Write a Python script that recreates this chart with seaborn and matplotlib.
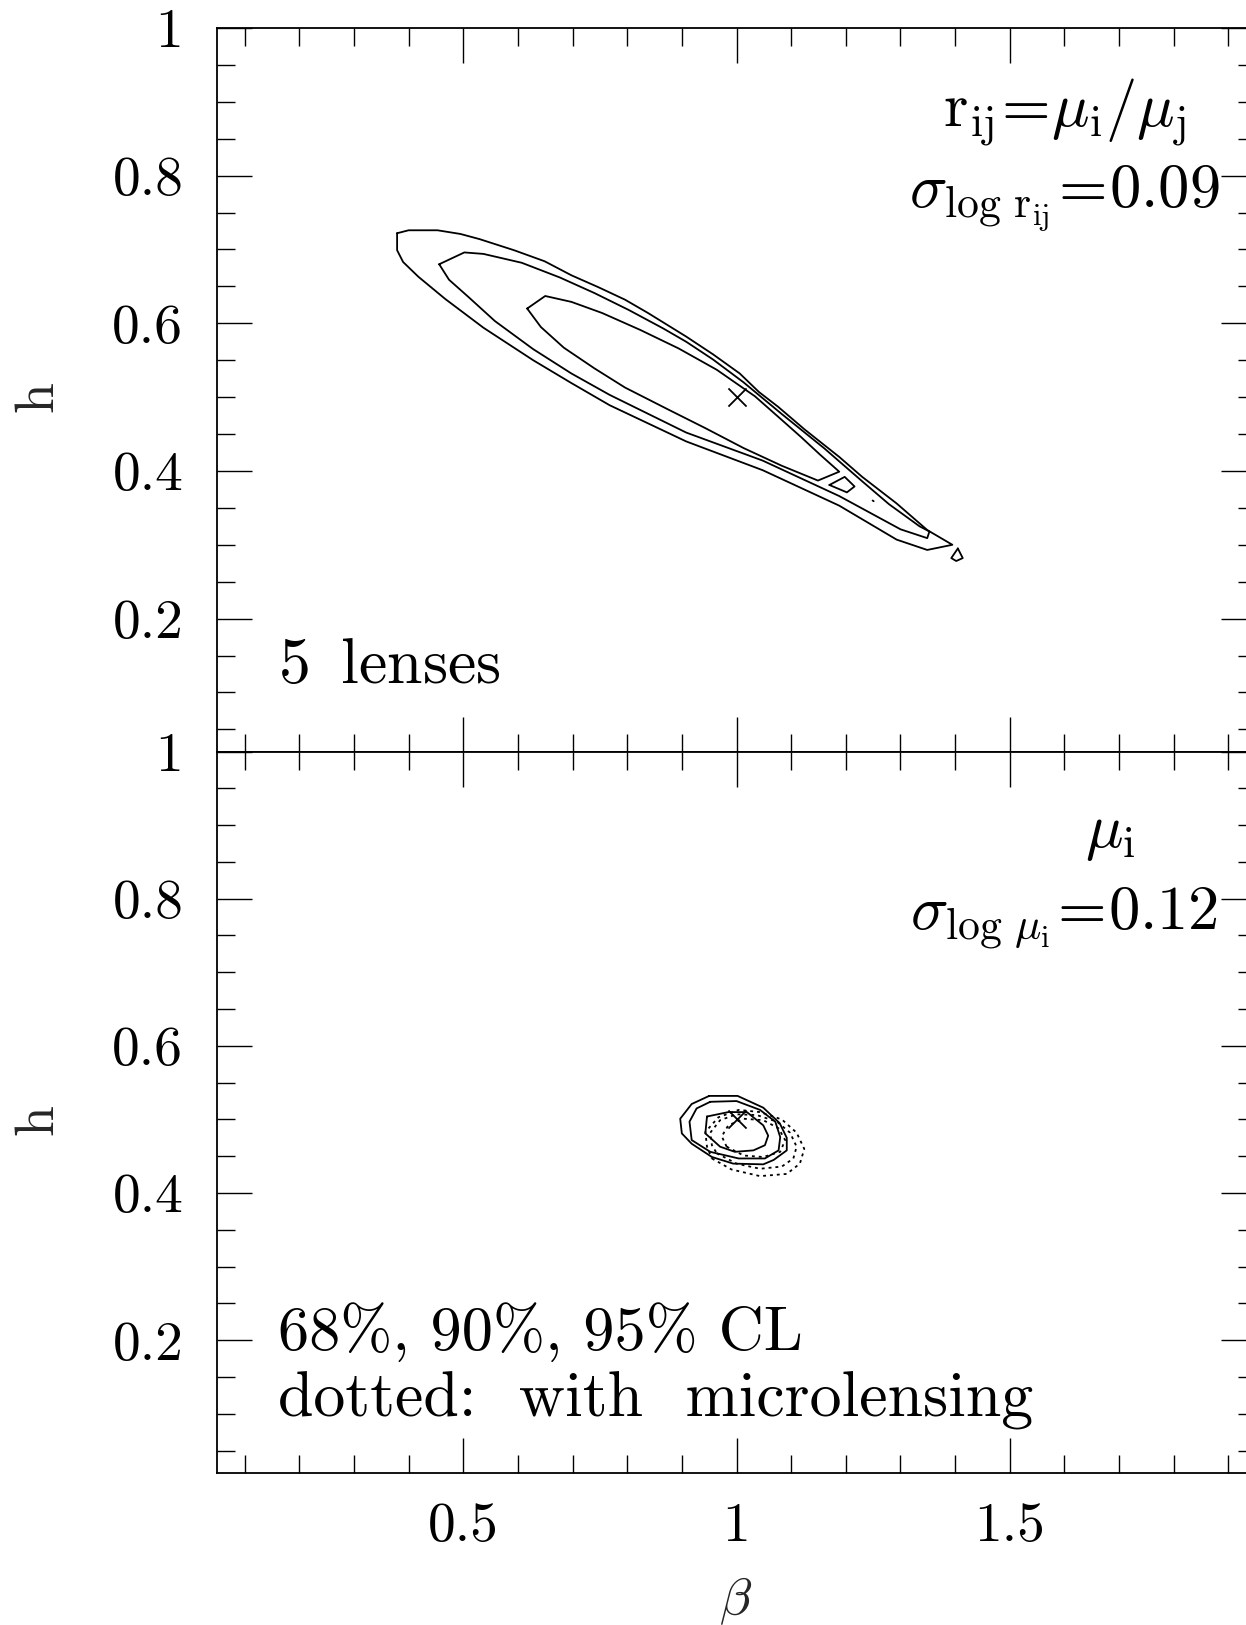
import matplotlib
matplotlib.use("Agg")
import matplotlib.pyplot as plt
from matplotlib.ticker import MultipleLocator, FuncFormatter
import seaborn as sns

# ---------------------------------------------------------------------------
# Top panel: flux-ratio constraint r_ij = mu_i / mu_j, 5 lenses
# contour outlines in (beta, h)
# ---------------------------------------------------------------------------
ratio_95_beta = [0.379, 0.400, 0.453, 0.495, 0.530, 0.593, 0.649, 0.698, 0.747, 0.796,
                 0.838, 0.908, 0.957, 1.006, 1.041, 1.076, 1.125, 1.188, 1.230, 1.293,
                 1.349, 1.395, 1.349, 1.293, 1.188, 1.048, 0.908, 0.768, 0.698, 0.628,
                 0.537, 0.467, 0.418, 0.390, 0.379, 0.379]
ratio_95_h = [0.722, 0.726, 0.726, 0.721, 0.714, 0.699, 0.684, 0.665, 0.649, 0.632,
              0.614, 0.582, 0.558, 0.532, 0.507, 0.487, 0.456, 0.419, 0.392, 0.356,
              0.320, 0.300, 0.293, 0.307, 0.353, 0.401, 0.440, 0.489, 0.519, 0.550,
              0.594, 0.633, 0.663, 0.683, 0.699, 0.722]

ratio_90_beta = [0.456, 0.502, 0.537, 0.607, 0.677, 0.740, 0.803, 0.866, 0.908, 0.957,
                 1.013, 1.083, 1.160, 1.230, 1.279, 1.335, 1.353, 1.349, 1.300, 1.188,
                 1.048, 0.908, 0.768, 0.698, 0.628, 0.558, 0.509, 0.474, 0.456]
ratio_90_h = [0.680, 0.696, 0.694, 0.682, 0.662, 0.641, 0.618, 0.593, 0.575, 0.551,
              0.520, 0.477, 0.431, 0.386, 0.355, 0.325, 0.318, 0.309, 0.321, 0.366,
              0.414, 0.452, 0.503, 0.532, 0.565, 0.603, 0.636, 0.659, 0.680]

ratio_68_beta = [0.617, 0.650, 0.698, 0.754, 0.824, 0.894, 0.964, 1.034, 1.083, 1.118,
                 1.153, 1.188, 1.149, 1.083, 1.013, 0.943, 0.873, 0.796, 0.740, 0.684,
                 0.642, 0.617]
ratio_68_h = [0.620, 0.637, 0.629, 0.614, 0.591, 0.566, 0.537, 0.501, 0.469, 0.446,
              0.422, 0.399, 0.387, 0.407, 0.431, 0.458, 0.484, 0.513, 0.539, 0.567,
              0.595, 0.620]

# small 68% island and 95% droplet near the tip
ratio_68_island_beta = [1.170, 1.198, 1.216, 1.202, 1.170]
ratio_68_island_h = [0.381, 0.392, 0.379, 0.371, 0.381]
ratio_95_drop_beta = [1.405, 1.414, 1.402, 1.393, 1.405]
ratio_95_drop_h = [0.295, 0.282, 0.278, 0.282, 0.295]
ratio_speck_beta = [1.249, 1.251]
ratio_speck_h = [0.360, 0.359]

# ---------------------------------------------------------------------------
# Bottom panel: magnification constraint mu_i
# ---------------------------------------------------------------------------
mag_95_beta = [0.950, 1.002, 1.049, 1.079, 1.092, 1.092, 1.068, 1.049, 0.994, 0.955,
               0.918, 0.900, 0.897, 0.918, 0.950]
mag_95_h = [0.532, 0.532, 0.516, 0.495, 0.475, 0.458, 0.445, 0.439, 0.440, 0.449,
            0.467, 0.481, 0.501, 0.521, 0.532]

mag_90_beta = [0.952, 1.000, 1.043, 1.071, 1.080, 1.077, 1.052, 1.004, 0.952, 0.918,
               0.914, 0.927, 0.952]
mag_90_h = [0.524, 0.525, 0.513, 0.497, 0.476, 0.458, 0.447, 0.447, 0.456, 0.472,
            0.497, 0.515, 0.524]

mag_68_beta = [0.946, 0.985, 1.019, 1.049, 1.058, 1.052, 1.031, 0.997, 0.970, 0.943, 0.946]
mag_68_h = [0.504, 0.510, 0.510, 0.492, 0.478, 0.465, 0.458, 0.456, 0.463, 0.481, 0.504]

# with microlensing (dotted)
micro_95_beta = [0.955, 0.991, 1.043, 1.092, 1.116, 1.124, 1.110, 1.083, 1.043, 1.004,
                 0.967, 0.943, 0.946, 0.955]
micro_95_h = [0.447, 0.432, 0.423, 0.426, 0.440, 0.460, 0.482, 0.500, 0.510, 0.513,
              0.503, 0.483, 0.463, 0.447]

micro_90_beta = [0.964, 1.000, 1.043, 1.083, 1.104, 1.110, 1.098, 1.074, 1.037, 1.000,
                 0.970, 0.952, 0.955, 0.964]
micro_90_h = [0.454, 0.440, 0.433, 0.436, 0.447, 0.463, 0.482, 0.497, 0.506, 0.507,
              0.499, 0.482, 0.465, 0.454]

micro_68_beta = [0.982, 1.013, 1.049, 1.080, 1.089, 1.077, 1.049, 1.013, 0.985, 0.973, 0.982]
micro_68_h = [0.463, 0.451, 0.449, 0.456, 0.472, 0.488, 0.499, 0.501, 0.492, 0.477, 0.463]

# input model
true_beta = [1.0]
true_h = [0.5]

# axes
beta_lim = (0.05, 1.95)
h_lim = (0.02, 1.0)

# ---------------------------------------------------------------------------
sns.set_theme(style="ticks")
plt.rcParams.update({
    "font.family": ["cmr10", "DejaVu Serif"],
    "mathtext.fontset": "cm",
    "axes.formatter.use_mathtext": True,
    "axes.unicode_minus": False,
    "axes.edgecolor": "black",
    "axes.linewidth": 1.3,
    "text.color": "black",
    "xtick.color": "black",
    "ytick.color": "black",
})

W, H = 1246, 1625
fig = plt.figure(figsize=(W / 100, H / 100), dpi=100)

left = 217.3 / W
width = (1255.7 - 217.3) / W
top_px, mid_px, bot_px = 28.0, 751.5, 1472.7
ax_top = fig.add_axes([left, 1 - mid_px / H, width, (mid_px - top_px) / H])
ax_bot = fig.add_axes([left, 1 - bot_px / H, width, (bot_px - mid_px) / H])

LW = 1.3
DOT = (0, (1.6, 2.2))


def outline(ax, bx, hy, dotted=False):
    sns.lineplot(x=bx, y=hy, sort=False, estimator=None, ax=ax, color="black",
                 lw=LW, linestyle=DOT if dotted else "-")


fmt = FuncFormatter(lambda v, p: f"{v:g}")
for ax in (ax_top, ax_bot):
    ax.set_xlim(*beta_lim)
    ax.set_ylim(*h_lim)
    ax.xaxis.set_major_locator(MultipleLocator(0.5))
    ax.xaxis.set_minor_locator(MultipleLocator(0.1))
    ax.yaxis.set_major_locator(MultipleLocator(0.2))
    ax.yaxis.set_minor_locator(MultipleLocator(0.05))
    ax.xaxis.set_major_formatter(fmt)
    ax.yaxis.set_major_formatter(fmt)
    ax.tick_params(which="both", direction="in", top=True, right=True,
                   color="black", width=1.0)
    ax.tick_params(which="major", length=25)
    ax.tick_params(which="minor", length=12.7)
    ax.tick_params(axis="y", which="major", pad=24.5, labelsize=40)
    ax.tick_params(axis="x", which="major", pad=21.6, labelsize=40)
    for s in ax.spines.values():
        s.set_linewidth(LW)
        s.set_color("black")
    ax.set_ylabel("h", fontsize=40, rotation=90, va="center", ha="center")
    ax.yaxis.set_label_coords(-0.172, 0.49)

ax_top.tick_params(axis="x", labelbottom=False)
ax_top.set_xlabel("")

# top panel
outline(ax_top, ratio_95_beta, ratio_95_h)
outline(ax_top, ratio_90_beta, ratio_90_h)
outline(ax_top, ratio_68_beta, ratio_68_h)
outline(ax_top, ratio_68_island_beta, ratio_68_island_h)
outline(ax_top, ratio_95_drop_beta, ratio_95_drop_h)
outline(ax_top, ratio_speck_beta, ratio_speck_h)
sns.scatterplot(x=true_beta, y=true_h, ax=ax_top, marker="x", s=170,
                color="black", linewidth=1.3)

TXT = 45
NOTE = 46
ax_top.text(1.6, 0.866, r"$\mathrm{r}_{\mathrm{ij}}\!=\!\mu_{\mathrm{i}}/\mu_{\mathrm{j}}$",
            ha="center", va="baseline", fontsize=TXT)
ax_top.text(1.6, 0.758, r"$\sigma_{\mathrm{log}\ \mathrm{r}_{\mathrm{ij}}}\!=\!0.09$",
            ha="center", va="baseline", fontsize=TXT)
ax_top.text(0.161, 0.1124, r"5 $\,$lenses", ha="left", va="baseline", fontsize=NOTE)

# bottom panel
outline(ax_bot, mag_95_beta, mag_95_h)
outline(ax_bot, mag_90_beta, mag_90_h)
outline(ax_bot, mag_68_beta, mag_68_h)
outline(ax_bot, micro_95_beta, micro_95_h, dotted=True)
outline(ax_bot, micro_90_beta, micro_90_h, dotted=True)
outline(ax_bot, micro_68_beta, micro_68_h, dotted=True)
sns.scatterplot(x=true_beta, y=true_h, ax=ax_bot, marker="x", s=170,
                color="black", linewidth=1.3)

ax_bot.text(1.683, 0.870, r"$\mu_{\mathrm{i}}$", ha="center", va="baseline", fontsize=TXT)
ax_bot.text(1.6, 0.759, r"$\sigma_{\mathrm{log}\ \mu_{\mathrm{i}}}\!=\!0.12$",
            ha="center", va="baseline", fontsize=TXT)
ax_bot.text(0.161, 0.187, "68%, 90%, 95% CL", ha="left", va="baseline", fontsize=TXT)
ax_bot.text(0.161, 0.096, "dotted:  with  microlensing", ha="left", va="baseline",
            fontsize=NOTE)

ax_bot.set_xlabel(r"$\beta$", fontsize=38, va="top")
ax_bot.xaxis.set_label_coords(0.499, -0.142)

fig.savefig("out.png", dpi=100)
